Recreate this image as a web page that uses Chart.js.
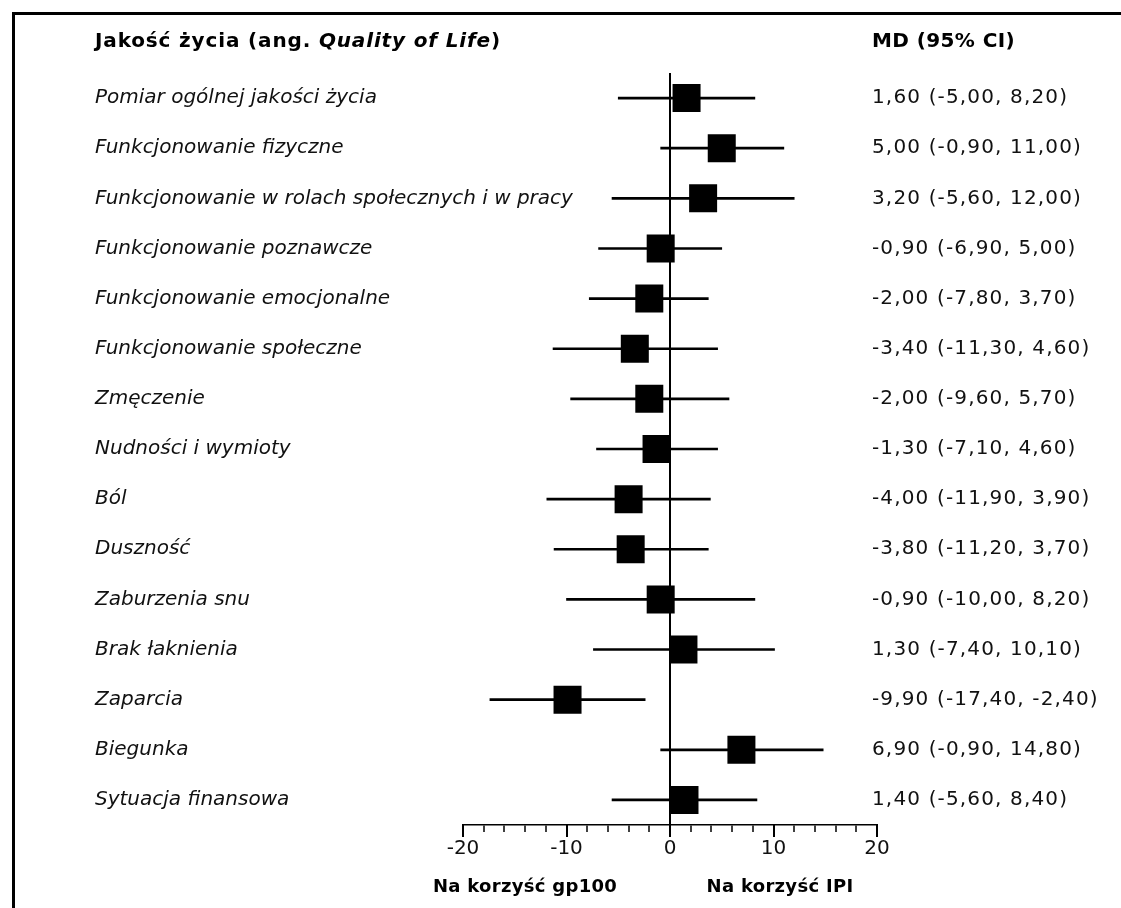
<!DOCTYPE html>
<html lang="pl">
<head>
<meta charset="utf-8">
<title>Jakość życia</title>
<script src="https://cdn.jsdelivr.net/npm/chart.js@4.4.1/dist/chart.umd.min.js"></script>
<style>
    body { margin: 0; background: #fff; }
    .wrap { position: relative; width: 1121px; height: 908px; overflow: hidden; }
    .frame { position: absolute; left: 12px; top: 12px; width: 1200px; height: 1000px; border: 3px solid #000; box-sizing: border-box; }
    canvas { position: absolute; left: 0; top: 0; }
</style>
</head>
<body>
<div class="wrap">
    <div class="frame"></div>
    <canvas id="chart" width="1121" height="908"></canvas>
</div>
<script>
// Dane wykresu
let categories = [
    'Pomiar ogólnej jakości życia',
    'Funkcjonowanie fizyczne',
    'Funkcjonowanie w rolach społecznych i w pracy',
    'Funkcjonowanie poznawcze',
    'Funkcjonowanie emocjonalne',
    'Funkcjonowanie społeczne',
    'Zmęczenie',
    'Nudności i wymioty',
    'Ból',
    'Duszność',
    'Zaburzenia snu',
    'Brak łaknienia',
    'Zaparcia',
    'Biegunka',
    'Sytuacja finansowa'
];
let md     = [1.6, 5.0, 3.2, -0.9, -2.0, -3.4, -2.0, -1.3, -4.0, -3.8, -0.9, 1.3, -9.9, 6.9, 1.4];
let ciLow  = [-5.0, -0.9, -5.6, -6.9, -7.8, -11.3, -9.6, -7.1, -11.9, -11.2, -10.0, -7.4, -17.4, -0.9, -5.6];
let ciHigh = [8.2, 11.0, 12.0, 5.0, 3.7, 4.6, 5.7, 4.6, 3.9, 3.7, 8.2, 10.1, -2.4, 14.8, 8.4];
let xTicks = [-20, -10, 0, 10, 20];

Core();

function Core()
{
    Chart.defaults.font.family = '"DejaVu Sans", Verdana, sans-serif';
    Chart.defaults.font.size = 20;
    Chart.defaults.color = '#111';

    InitForestPlot();
}

function FormatNum(v)
{
    return v.toFixed(2).replace('.', ',');
}

function InitForestPlot()
{
    let canvas = document.getElementById('chart');

    if (canvas == null)
    {
        return;
    }

    // Teksty: nazwy, kolumna MD, nagłówki, podpisy pod osią
    let textPlugin = {
        id: 'forestText',
        afterDraw(chart)
        {
            let ctx = chart.ctx;
            let y = chart.scales.y;
            let x = chart.scales.x;
            let bottom = chart.chartArea.bottom;

            ctx.save();

            // dłuższe kreski na głównych podziałkach
            ctx.strokeStyle = '#000';
            ctx.lineWidth = 2;
            xTicks.forEach(function (v) {
                let px = Math.round(x.getPixelForValue(v));
                ctx.beginPath();
                ctx.moveTo(px, bottom);
                ctx.lineTo(px, bottom + 12);
                ctx.stroke();
            });

            ctx.textBaseline = 'middle';
            ctx.textAlign = 'left';
            ctx.fillStyle = '#111';

            ctx.font = 'italic 20px "DejaVu Sans"';
            categories.forEach(function (c, i) {
                ctx.fillText(c, 95, y.getPixelForValue(i));
            });

            ctx.font = '20px "DejaVu Sans"';
            ctx.letterSpacing = '1.15px';
            categories.forEach(function (c, i) {
                let s = FormatNum(md[i]) + ' (' + FormatNum(ciLow[i]) + ', ' + FormatNum(ciHigh[i]) + ')';
                ctx.fillText(s, 872, y.getPixelForValue(i));
            });

            // nagłówki
            ctx.fillStyle = '#000';
            ctx.letterSpacing = '0.85px';
            let hx = 95;
            let parts = [['bold', 'Jakość życia (ang. '], ['italic bold', 'Quality of Life'], ['bold', ')']];
            parts.forEach(function (p) {
                ctx.font = p[0] + ' 20px "DejaVu Sans"';
                ctx.fillText(p[1], hx, 42);
                hx += ctx.measureText(p[1]).width;
            });
            ctx.font = 'bold 20px "DejaVu Sans"';
            ctx.letterSpacing = '0.4px';
            ctx.fillText('MD (95% CI)', 872, 42);

            ctx.textAlign = 'center';
            ctx.letterSpacing = '0.3px';
            ctx.font = 'bold 18px "DejaVu Sans"';
            ctx.fillText('Na korzyść gp100', 525, 887);
            ctx.fillText('Na korzyść IPI', 780, 887);

            ctx.restore();
        }
    };

    new Chart(canvas.getContext('2d'), {
        type: 'bar',
        data: {
            labels: categories,
            datasets: [
                {
                    label: '95% CI',
                    data: ciLow.map(function (lo, i) { return [lo, ciHigh[i]]; }), // przedziały ufności
                    backgroundColor: '#000',
                    borderWidth: 0,
                    borderSkipped: false,
                    barThickness: 2,
                    order: 2
                },
                {
                    type: 'line',
                    label: 'MD',
                    data: md, // średnia różnica
                    indexAxis: 'y',
                    showLine: false,
                    pointStyle: 'rect',
                    pointRadius: 19.8,
                    pointBorderWidth: 0,
                    pointBackgroundColor: '#000',
                    order: 1
                }
            ]
        },
        options: {
            indexAxis: 'y',
            responsive: false,
            animation: false,
            layout: {
                padding: { left: 463, right: 244, top: 73, bottom: 43 }
            },
            plugins: {
                legend: { display: false },
                tooltip: { enabled: false }
            },
            scales: {
                x: {
                    type: 'linear',
                    position: 'bottom',
                    min: -20,
                    max: 20,
                    afterFit: function (scale) { scale.height = 40; },
                    border: { display: true, color: '#000', width: 1.5 },
                    grid: {
                        drawOnChartArea: true,
                        color: function (c) { return c.tick && c.tick.value === 0 ? '#000' : 'rgba(0,0,0,0)'; }, // tylko linia zera
                        lineWidth: 2,
                        tickColor: '#000',
                        tickWidth: 1.5,
                        tickLength: 7
                    },
                    ticks: {
                        stepSize: 2,
                        autoSkip: false,
                        maxRotation: 0,
                        padding: 5,
                        color: '#111',
                        callback: function (v) { return xTicks.includes(v) ? String(v) : ''; }
                    }
                },
                y: {
                    type: 'category',
                    display: false,
                    offset: true
                }
            }
        },
        plugins: [textPlugin]
    });
}
</script>
</body>
</html>
